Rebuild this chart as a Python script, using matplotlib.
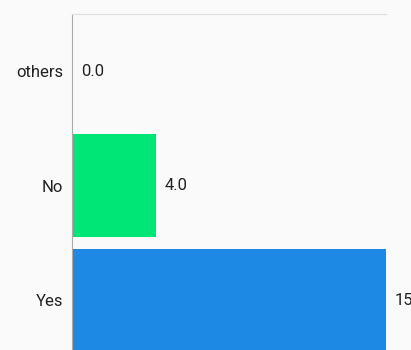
import matplotlib.pyplot as plt

categories = ['Yes', 'No', 'others']
values = [15.0, 4.0, 0.0]
colors = ['#1E88E5', '#00E676', '#FF9800']

plt.rcParams['font.family'] = ['Roboto', 'DejaVu Sans']

fig = plt.figure(figsize=(4.11, 3.50), dpi=100, facecolor='#fafafa')
ax = fig.add_axes([72 / 411, -7.5 / 350, 314 / 411, 343.5 / 350])
ax.set_facecolor('#fafafa')

bars = ax.barh(categories, values, height=0.9, color=colors)
for bar, v in zip(bars, values):
    ax.annotate('%.1f' % v, (bar.get_width(), bar.get_y() + bar.get_height() / 2),
                xytext=(9, 0), textcoords='offset pixels',
                va='center', ha='left', fontsize=12, color='#222222',
                annotation_clip=False)

ax.set_xlim(0, 15)
ax.set_ylim(-0.5, 2.5)
ax.set_xticks([])
ax.tick_params(axis='y', length=0, pad=6.5, labelsize=12, labelcolor='#222222')

ax.spines['right'].set_visible(False)
ax.spines['bottom'].set_visible(False)
ax.spines['top'].set_color('#dddddd')
ax.spines['left'].set_color('#aaaaaa')

fig.savefig('out.png', dpi=100, facecolor=fig.get_facecolor())
